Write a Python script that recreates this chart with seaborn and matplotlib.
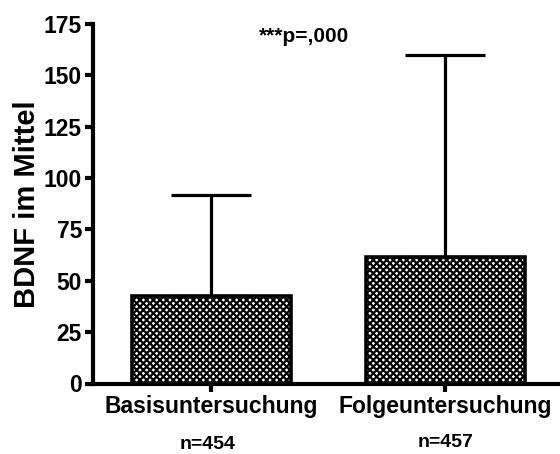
import matplotlib
matplotlib.use("Agg")
import matplotlib.pyplot as plt
import seaborn as sns
import pandas as pd

categories = ["Basisuntersuchung", "Folgeuntersuchung"]
means = [42.5, 61.5]
sd_upper = [49.5, 98.5]
n_labels = ["n=454", "n=457"]
yticks = [0, 25, 50, 75, 100, 125, 150, 175]
p_text = "***p=,000"
ylabel = "BDNF im Mittel"

sns.set_style("ticks")
plt.rcParams["font.family"] = ["Liberation Sans", "DejaVu Sans"]
plt.rcParams["font.weight"] = "bold"
plt.rcParams["hatch.color"] = "black"
plt.rcParams["hatch.linewidth"] = 1.6
for k in ["text.color", "axes.labelcolor", "xtick.color", "ytick.color", "axes.edgecolor"]:
    plt.rcParams[k] = "black"

df = pd.DataFrame({"cat": categories, "mean": means})

fig = plt.figure(figsize=(5.6, 4.54), dpi=100)
ax = fig.add_axes([93 / 560, 1 - 383.5 / 454, 1 - 93 / 560, (383.5 - 24) / 454])

sns.barplot(data=df, x="cat", y="mean", color="white", width=0.68,
            edgecolor="black", linewidth=2.6, ax=ax, errorbar=None)
for p in ax.patches:
    p.set_hatch("xxxxx")
    p.set_facecolor("white")
    p.set_edgecolor("black")

ax.errorbar([0, 1], means, yerr=[[0, 0], sd_upper], fmt="none",
            ecolor="black", elinewidth=2.3, capsize=29, capthick=2.3, zorder=1)

ax.set_ylim(0, 175)
ax.set_xlim(-0.505, 1.49)
ax.set_yticks(yticks)
ax.set_yticklabels([str(t) for t in yticks], fontsize=16.5, fontweight="bold")
ax.set_xticks([0, 1])
ax.set_xticklabels(categories, fontsize=16.5, fontweight="bold")
ax.set_xlabel("")
ax.set_ylabel(ylabel, fontsize=21, fontweight="bold", labelpad=2)

for s in ["top", "right"]:
    ax.spines[s].set_visible(False)
for s in ["left", "bottom"]:
    ax.spines[s].set_linewidth(3)
    ax.spines[s].set_color("black")
ax.tick_params(axis="both", width=3, length=6, direction="out", pad=2, colors="black")

offsets = [(-2.7, -47.5), (0, -45.5)]
for i, t in enumerate(n_labels):
    ax.annotate(t, xy=(i, 0), xycoords=("data", "axes fraction"),
                xytext=offsets[i], textcoords="offset points",
                ha="center", va="baseline", fontsize=14, fontweight="bold")

fig.text(304 / 560, 1 - 36 / 454, p_text, ha="center", va="center",
         fontsize=15, fontweight="bold")

fig.savefig("out.png", dpi=100)
